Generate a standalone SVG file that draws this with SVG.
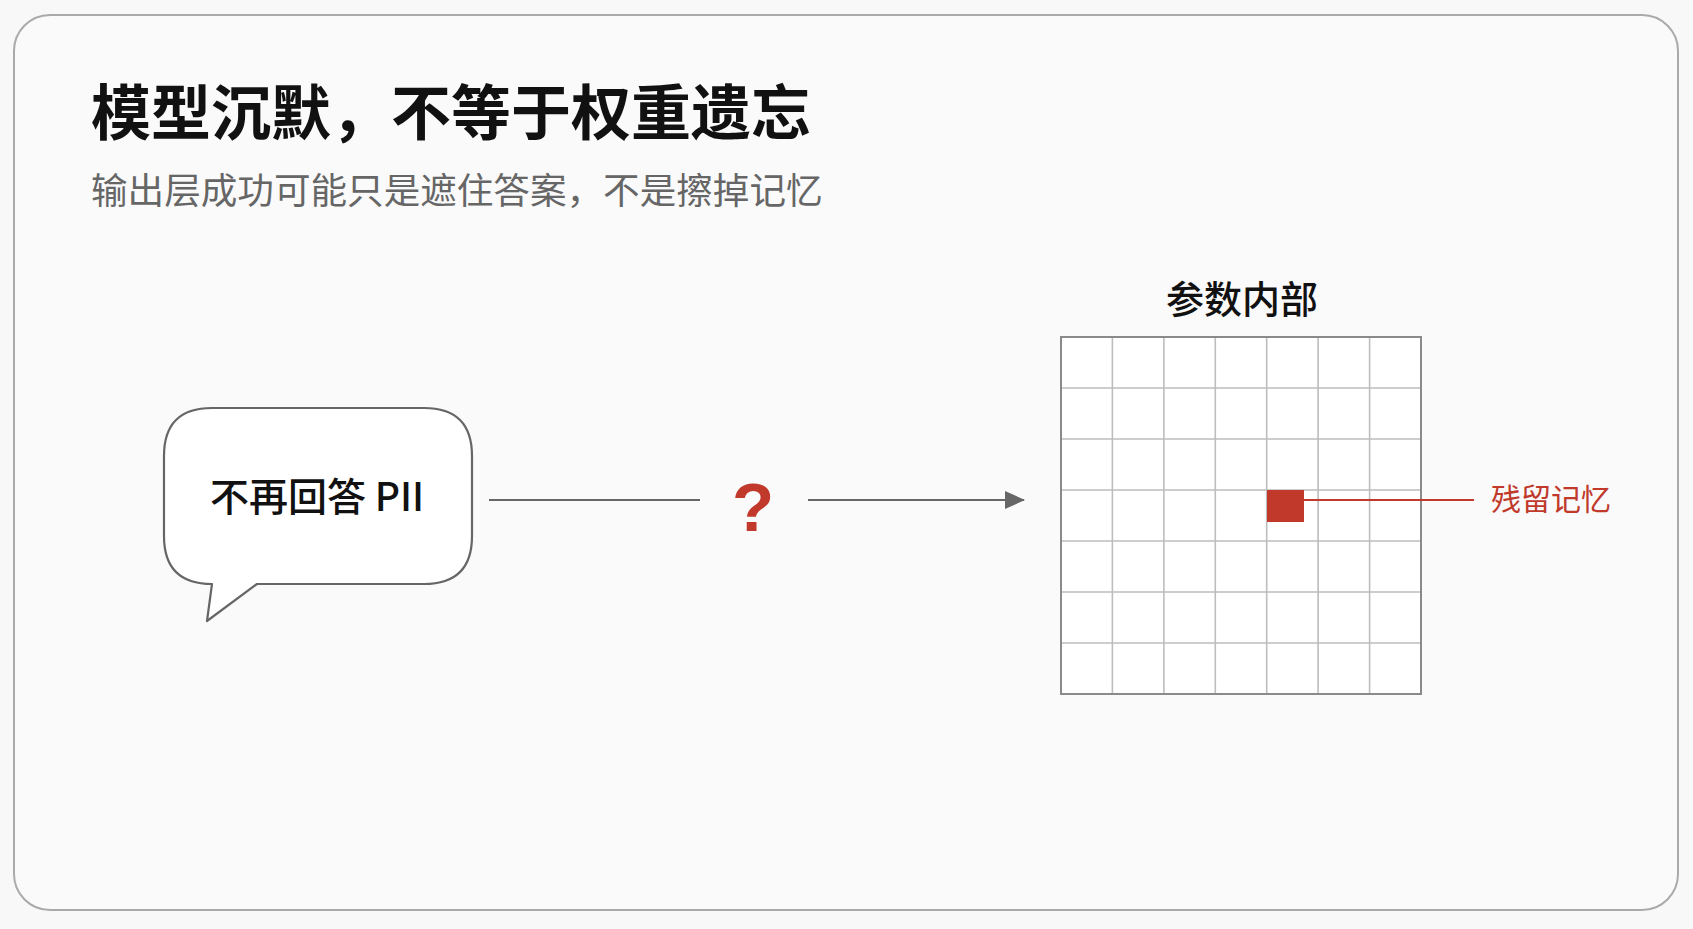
<svg xmlns="http://www.w3.org/2000/svg" width="1693" height="929" viewBox="0 0 1693 929">
  <style>
    .cjk { font-family: "Noto Sans CJK SC", "Noto Sans", sans-serif; }
    .title { font-size: 60px; font-weight: 700; fill: #111; }
    .sub { font-size: 36.6px; font-weight: 400; fill: #666; }
    .label { font-weight: 500; fill: #111; }
    .red { fill: #c0392b; }
    .conn { stroke: #666; stroke-width: 2.2; fill: none; }
    .grid-in { stroke: #bdbdbd; stroke-width: 1.6; }
  </style>
  <defs>
    <marker id="arrow" viewBox="0 0 20 18" refX="19" refY="9" markerWidth="20" markerHeight="18" markerUnits="userSpaceOnUse" orient="auto">
      <path d="M0,0 L20,9 L0,18 Z" fill="#666"/>
    </marker>
  </defs>
  <rect width="1693" height="929" fill="#f8f8f8"/>
  <rect x="14" y="15" width="1664" height="895" rx="36" fill="#fafafa" stroke="#aaaaaa" stroke-width="2"/>

  <g id="title">
    <text class="cjk title" x="91" y="135">模型沉默，不等于权重遗忘</text>
    <text class="cjk sub" x="91" y="204">输出层成功可能只是遮住答案，不是擦掉记忆</text>
  </g>

  <g id="bubble">
    <path d="M212,584 Q164,584 164,536 L164,456 Q164,408 212,408 L424,408 Q472,408 472,456 L472,536 Q472,584 424,584 L257,584 L207,621 L212,584 Z" fill="#ffffff" stroke="#666" stroke-width="2.2" stroke-linejoin="round"/>
    <text class="cjk label" x="317" y="511" text-anchor="middle" font-size="39">不再回答 PII</text>
  </g>

  <g id="question">
    <text x="753" y="531" text-anchor="middle" font-family="Liberation Sans, sans-serif" font-size="69" font-weight="700" class="red">?</text>
  </g>

  <g id="params">
    <text class="cjk label" x="1242" y="313" text-anchor="middle" font-size="38">参数内部</text>
    <rect x="1061" y="337" width="360" height="357" fill="#ffffff"/>
    <g class="grid-in">
      <line x1="1112.4" y1="337" x2="1112.4" y2="694"/>
      <line x1="1163.9" y1="337" x2="1163.9" y2="694"/>
      <line x1="1215.3" y1="337" x2="1215.3" y2="694"/>
      <line x1="1266.7" y1="337" x2="1266.7" y2="694"/>
      <line x1="1318.1" y1="337" x2="1318.1" y2="694"/>
      <line x1="1369.6" y1="337" x2="1369.6" y2="694"/>
      <line x1="1061" y1="388" x2="1421" y2="388"/>
      <line x1="1061" y1="439" x2="1421" y2="439"/>
      <line x1="1061" y1="490" x2="1421" y2="490"/>
      <line x1="1061" y1="541" x2="1421" y2="541"/>
      <line x1="1061" y1="592" x2="1421" y2="592"/>
      <line x1="1061" y1="643" x2="1421" y2="643"/>
    </g>
    <rect x="1061" y="337" width="360" height="357" fill="none" stroke="#8a8a8a" stroke-width="2"/>
    <rect x="1267" y="490" width="37" height="32" class="red"/>
  </g>

  <g id="residual">
    <text class="cjk red" x="1491" y="510" font-size="30">残留记忆</text>
  </g>

  <g id="connectors">
    <line class="conn" x1="489" y1="500" x2="700" y2="500"/>
    <line class="conn" x1="808" y1="500" x2="1024" y2="500" marker-end="url(#arrow)"/>
    <line x1="1304" y1="500" x2="1474" y2="500" stroke="#c0392b" stroke-width="1.8"/>
  </g>
</svg>
